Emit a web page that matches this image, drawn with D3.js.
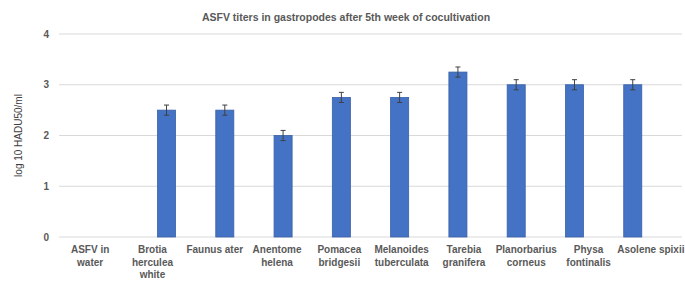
<!DOCTYPE html>
<html>
<head>
<meta charset="utf-8">
<script src="https://cdn.jsdelivr.net/npm/d3@7"></script>
<style>
  body { margin: 0; background: #fff; }
  svg text { font-family: "Liberation Sans", Arial, sans-serif; }
</style>
</head>
<body>
<div id="chart"></div>
<script>
const categories = ["ASFV in water", "Brotia herculea white", "Faunus ater", "Anentome helena",
  "Pomacea bridgesii", "Melanoides tuberculata", "Tarebia granifera", "Planorbarius corneus",
  "Physa fontinalis", "Asolene spixii"];
// tick labels as they are broken in the picture
const tickLabels = [["ASFV in", "water"], ["Brotia", "herculea", "white"], ["Faunus ater"],
  ["Anentome", "helena"], ["Pomacea", "bridgesii"], ["Melanoides", "tuberculata"],
  ["Tarebia", "granifera"], ["Planorbarius", "corneus"], ["Physa", "fontinalis"], ["Asolene spixii"]];
const titers = [0, 2.5, 2.5, 2.0, 2.75, 2.75, 3.25, 3.0, 3.0, 3.0];
const errors = [0, 0.1, 0.1, 0.1, 0.1, 0.1, 0.1, 0.1, 0.1, 0.1];
const yTicks = [0, 1, 2, 3, 4];

const width = 685, height = 292;
const margin = { top: 34, right: 3, bottom: 55, left: 59 };
const innerW = width - margin.left - margin.right;
const innerH = height - margin.top - margin.bottom;

const svg = d3.select('#chart').append('svg')
  .attr('width', width)
  .attr('height', height);

const chart = svg.append('g')
  .attr('transform', `translate(${margin.left},${margin.top})`);

const x = d3.scaleBand().domain(categories).range([0, innerW]).padding(0.69);
const xOuter = d3.scaleBand().domain(categories).range([0, innerW]);
const y = d3.scaleLinear().domain([0, 4]).range([innerH, 0]);

// gridlines
chart.selectAll('.grid')
  .data(yTicks)
  .enter().append('line')
  .attr('x1', 0).attr('x2', innerW)
  .attr('y1', d => y(d)).attr('y2', d => y(d))
  .attr('stroke', '#d9d9d9').attr('stroke-width', 1);

// y tick labels
chart.selectAll('.ytick')
  .data(yTicks)
  .enter().append('text')
  .attr('x', -10)
  .attr('y', d => y(d))
  .attr('dy', '0.35em')
  .attr('text-anchor', 'end')
  .attr('fill', '#595959')
  .style('font-size', '10px')
  .style('font-weight', 'bold')
  .text(d => d);

const rows = categories.map((c, i) => ({ name: c, value: titers[i], err: errors[i], label: tickLabels[i] }));

// bars
chart.selectAll('.bar')
  .data(rows.filter(d => d.value > 0))
  .enter().append('rect')
  .attr('x', d => x(d.name))
  .attr('width', x.bandwidth())
  .attr('y', d => y(d.value))
  .attr('height', d => y(0) - y(d.value))
  .attr('fill', '#4472c4')
  .attr('stroke', '#3a62a8')
  .attr('stroke-width', 0.8);

// error bars
const eb = chart.selectAll('.err')
  .data(rows.filter(d => d.value > 0))
  .enter().append('g')
  .attr('stroke', '#404040')
  .attr('stroke-width', 1);
const cx = d => x(d.name) + x.bandwidth() / 2;
eb.append('line')
  .attr('x1', cx).attr('x2', cx)
  .attr('y1', d => y(d.value + d.err)).attr('y2', d => y(d.value - d.err));
eb.append('line')
  .attr('x1', d => cx(d) - 2.5).attr('x2', d => cx(d) + 2.5)
  .attr('y1', d => y(d.value + d.err)).attr('y2', d => y(d.value + d.err));
eb.append('line')
  .attr('x1', d => cx(d) - 2.5).attr('x2', d => cx(d) + 2.5)
  .attr('y1', d => y(d.value - d.err)).attr('y2', d => y(d.value - d.err));

// x labels
chart.selectAll('.xlab')
  .data(rows)
  .enter().append('text')
  .attr('y', innerH + 16)
  .attr('text-anchor', 'middle')
  .attr('fill', '#595959')
  .style('font-size', '10px')
  .style('font-weight', 'bold')
  .selectAll('tspan')
  .data(d => d.label.map(l => ({ name: d.name, text: l })))
  .enter().append('tspan')
  .attr('x', d => xOuter(d.name) + xOuter.bandwidth() / 2)
  .attr('dy', (d, i) => i === 0 ? 0 : 12.5)
  .text(d => d.text);

// title
svg.append('text')
  .attr('x', 346)
  .attr('y', 21)
  .attr('text-anchor', 'middle')
  .attr('fill', '#595959')
  .style('font-size', '10.5px')
  .style('font-weight', 'bold')
  .text('ASFV titers in gastropodes after 5th week of cocultivation');

// y axis title
svg.append('text')
  .attr('transform', `translate(22,${margin.top + innerH / 2}) rotate(-90)`)
  .attr('text-anchor', 'middle')
  .attr('fill', '#404040')
  .style('font-size', '10px')
  .text('log 10 HADU50/ml');
</script>
</body>
</html>
